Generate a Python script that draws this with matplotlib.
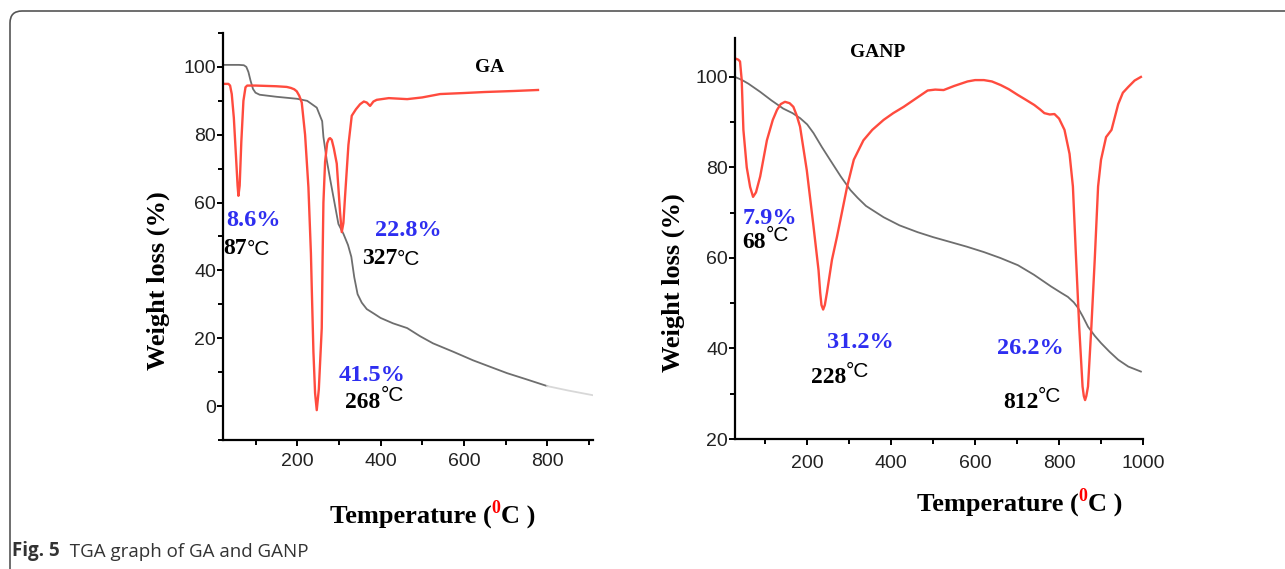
import matplotlib
matplotlib.use("Agg")
import matplotlib.pyplot as plt
from matplotlib.patches import FancyBboxPatch
from matplotlib.ticker import MultipleLocator
from matplotlib.transforms import IdentityTransform

# GA: TGA (grey) and DTG (red), temperature in degC
ga_tga_t = [25, 60, 72, 78, 83, 88, 94, 100, 110, 150, 200, 224, 247, 260, 263, 271,
            279, 291, 299, 311, 322, 330, 337, 345, 355, 367, 385, 400, 430, 464,
            495, 526, 575, 622, 665, 704, 750, 800]
ga_tga_w = [100.6, 100.6, 100.5, 100, 98.5, 96, 93.5, 92.4, 91.8, 91.2, 90.6, 90, 88,
            84, 79.4, 72.5, 67, 59, 53.7, 50.8, 47.5, 44, 38, 33, 30.5, 28.6, 27.2,
            26, 24.4, 23, 20.6, 18.5, 16, 13.5, 11.5, 9.7, 7.9, 5.9]
ga_tail_t = [800, 850, 910]
ga_tail_w = [5.9, 4.6, 3.2]

ga_dtg_t = [22, 35, 39, 43, 48, 53, 57, 59, 62, 66, 71, 76, 80, 100, 150, 175, 185,
            193, 199, 205, 211, 219, 227, 233, 235, 239, 243, 247, 252, 259, 261,
            263, 267, 272, 276, 279, 283, 288, 295, 303, 307, 311, 315, 323, 331,
            341, 351, 360, 367, 375, 383, 391, 420, 464, 500, 543, 600, 650, 720, 778]
ga_dtg_w = [95, 95, 94.5, 92, 85, 74, 65, 62, 65, 78, 90, 94, 94.5, 94.5, 94.3, 94.1,
            93.8, 93.4, 92.8, 91.5, 89.5, 80, 64.5, 45, 35, 16, 3.8, -1.2, 5, 23, 43.5,
            60, 72, 77.5, 78.8, 79, 78.5, 76, 71.5, 57, 51.3, 54, 62, 77, 85.6,
            87.5, 89, 89.8, 89.5, 88.5, 89.8, 90.3, 90.8, 90.5, 91, 92, 92.3, 92.6,
            92.9, 93.2]

# GANP: TGA (grey) and DTG (red)
ganp_tga_t = [28, 45, 60, 88, 115, 143, 165, 183, 200, 215, 235, 255, 280, 303, 320,
              340, 382, 420, 463, 500, 542, 580, 621, 660, 702, 740, 781, 805, 821,
              835, 845, 857, 869, 885, 900, 920, 941, 965, 995]
ganp_tga_w = [100, 99.3, 98.5, 96.7, 94.8, 93, 92, 90.9, 89.5, 87.6, 84.5, 81.6, 78,
              75, 73.3, 71.5, 69, 67.2, 65.7, 64.6, 63.5, 62.5, 61.3, 60, 58.4, 56.3,
              53.7, 52.3, 51.4, 50.2, 49, 47, 44.8, 42.8, 41.2, 39.3, 37.5, 36, 34.9]

ganp_dtg_t = [28, 36, 40, 44, 48, 56, 64, 71, 78, 88, 104, 118, 128, 137, 147, 158,
              167, 175, 183, 199, 215, 227, 231, 234, 238, 242, 247, 259, 271, 295,
              311, 334, 355, 382, 405, 430, 460, 487, 505, 525, 550, 582, 600, 621,
              640, 661, 680, 702, 720, 741, 755, 765, 778, 789, 800, 813, 825, 833,
              840, 848, 856, 859, 862, 865, 869, 877, 885, 893, 900, 912, 925, 941,
              952, 965, 980, 995]
ganp_dtg_w = [104.1, 103.8, 103.4, 99.3, 88.3, 80, 75.7, 73.5, 74.5, 78, 86, 90.5,
              92.7, 94, 94.5, 94.2, 93.4, 91.5, 89, 79.4, 67, 57.3, 52.3, 49.6, 48.6,
              49.6, 52.3, 59.6, 64.7, 75.7, 81.7, 86, 88.3, 90.5, 92, 93.4, 95.3, 97,
              97.2, 97.1, 98, 99, 99.3, 99.3, 99, 98.2, 97.3, 96, 95, 93.8, 92.8, 92,
              91.7, 91.8, 90.8, 88.3, 83, 75.8, 61, 44.8, 31.6, 29.5, 28.6, 29.5,
              31.6, 44.8, 59.6, 75.8, 81.7, 86.7, 88.3, 94, 96.5, 97.8, 99.2, 100]

RED = "#ff4b3e"
GREY = "#6e6e6e"
BLUE = "#2e2ef0"
SERIF = "Liberation Serif"
SANS = "Liberation Sans"

fig = plt.figure(figsize=(12.85, 5.69), dpi=100)
ax1 = fig.add_axes([223 / 1285, 1 - 440 / 569, 370 / 1285, 407 / 569])
ax2 = fig.add_axes([735 / 1285, 1 - 439 / 569, 408 / 1285, 401 / 569])


def style_axis(ax, xlim, ylim, xpad):
    ax.set_xlim(*xlim)
    ax.set_ylim(*ylim)
    for s in ("top", "right"):
        ax.spines[s].set_visible(False)
    for s in ("left", "bottom"):
        ax.spines[s].set_linewidth(1.6)
    ax.xaxis.set_major_locator(MultipleLocator(200))
    ax.xaxis.set_minor_locator(MultipleLocator(100))
    ax.yaxis.set_major_locator(MultipleLocator(20))
    ax.yaxis.set_minor_locator(MultipleLocator(10))
    ax.tick_params(which="both", direction="out", width=1.4)
    ax.tick_params(which="major", length=4.5)
    ax.tick_params(which="minor", length=3.5)
    ax.tick_params(axis="y", pad=0.5)
    ax.tick_params(axis="x", pad=xpad)
    for lab in ax.get_xticklabels() + ax.get_yticklabels():
        lab.set_fontfamily(SANS)
        lab.set_fontsize(14)
        lab.set_color("#222222")


def run(ax, x, y, pieces, coords="data"):
    """Write a row of text pieces; each piece is (text, props, raise)."""
    first = None
    prev = None
    for text, props, lift in pieces:
        if first is None:
            t = ax.annotate(text, xy=(x, y), xycoords=coords, ha="left",
                            va="center", annotation_clip=False, **props)
            first = t
        else:
            t = ax.annotate(text, xy=(1, lift), xycoords=(prev, first),
                            ha="left", va="bottom", annotation_clip=False, **props)
        prev = t
    return first


num = dict(family=SERIF, fontweight="bold", fontsize=17, color="black")
pct = dict(family=SERIF, fontweight="bold", fontsize=17.5, color=BLUE)
deg = dict(family=SANS, fontsize=15, color="black")
big = dict(family=SERIF, fontweight="bold", fontsize=19, color="black")
sup = dict(family=SERIF, fontweight="bold", fontsize=13, color="red")

# GA panel
ax1.plot(ga_tga_t, ga_tga_w, color=GREY, lw=1.3)
ax1.plot(ga_tail_t, ga_tail_w, color="#d8d8d8", lw=1.3)
ax1.plot(ga_dtg_t, ga_dtg_w, color=RED, lw=1.7)
style_axis(ax1, (22, 910), (-10, 110), 5)

ax1.text(663, 99.7, "GA", family=SERIF, fontweight="bold", fontsize=14,
         ha="center", va="center")
run(ax1, 30, 54.7, [("8.6%", pct, 0)])
run(ax1, 22, 46.5, [("87", num, 0), ("°C", deg, 0)])
run(ax1, 388, 51.8, [("22.8%", pct, 0)])
run(ax1, 355, 43.5, [("327", num, 0), ("°C", deg, 0)])
run(ax1, 300, 9.1, [("41.5%", pct, 0)])
run(ax1, 316, 1.2, [("268", num, 0), ("°C", deg, 0.35)])

# GANP panel
ax2.plot(ganp_tga_t, ganp_tga_w, color=GREY, lw=1.3)
ax2.plot(ganp_dtg_t, ganp_dtg_w, color=RED, lw=1.7)
style_axis(ax2, (28, 1000), (20, 108.6), 7)

ax2.text(367, 105.5, "GANP", family=SERIF, fontweight="bold", fontsize=14,
         ha="center", va="center")
run(ax2, 45, 68.8, [("7.9%", pct, 0)])
run(ax2, 45, 63.5, [("68", num, 0), ("°C", deg, 0.35)])
run(ax2, 248, 41.4, [("31.2%", pct, 0)])
run(ax2, 208, 33.5, [("228", num, 0), ("°C", deg, 0.35)])
run(ax2, 652, 40, [("26.2%", pct, 0)])
run(ax2, 666, 28, [("812", num, 0), ("°C", deg, 0.35)])

# axis titles
H = 569
for ax, x0, yc in ((ax1, 330, 517), (ax2, 917, 505)):
    run(ax, x0, H - yc, [("Temperature (", big, 0), ("0", sup, 0.5), ("C )", big, 0)],
        coords="figure pixels")
fig.text(158 / 1285, 1 - 281 / H, "Weight loss (%)", rotation=90, ha="center",
         va="center", family=SERIF, fontweight="bold", fontsize=19)
fig.text(673 / 1285, 1 - 283 / H, "Weight loss (%)", rotation=90, ha="center",
         va="center", family=SERIF, fontweight="bold", fontsize=19)

# caption and frame
cap_b = dict(family="Open Sans", fontweight="bold", fontsize=13.5, color="#333333")
cap_r = dict(family="Open Sans", fontsize=13.5, color="#333333")
run(ax1, 12, H - 551, [("Fig. 5", cap_b, 0), ("  TGA graph of GA and GANP", cap_r, 0)],
    coords="figure pixels")

frame = FancyBboxPatch((10, -30), 1310, H - 11 + 30,
                       boxstyle="round,pad=0,rounding_size=12",
                       transform=IdentityTransform(), fill=False,
                       edgecolor="#555555", lw=1.2)
fig.patches.append(frame)

fig.savefig("out.png", dpi=100)
